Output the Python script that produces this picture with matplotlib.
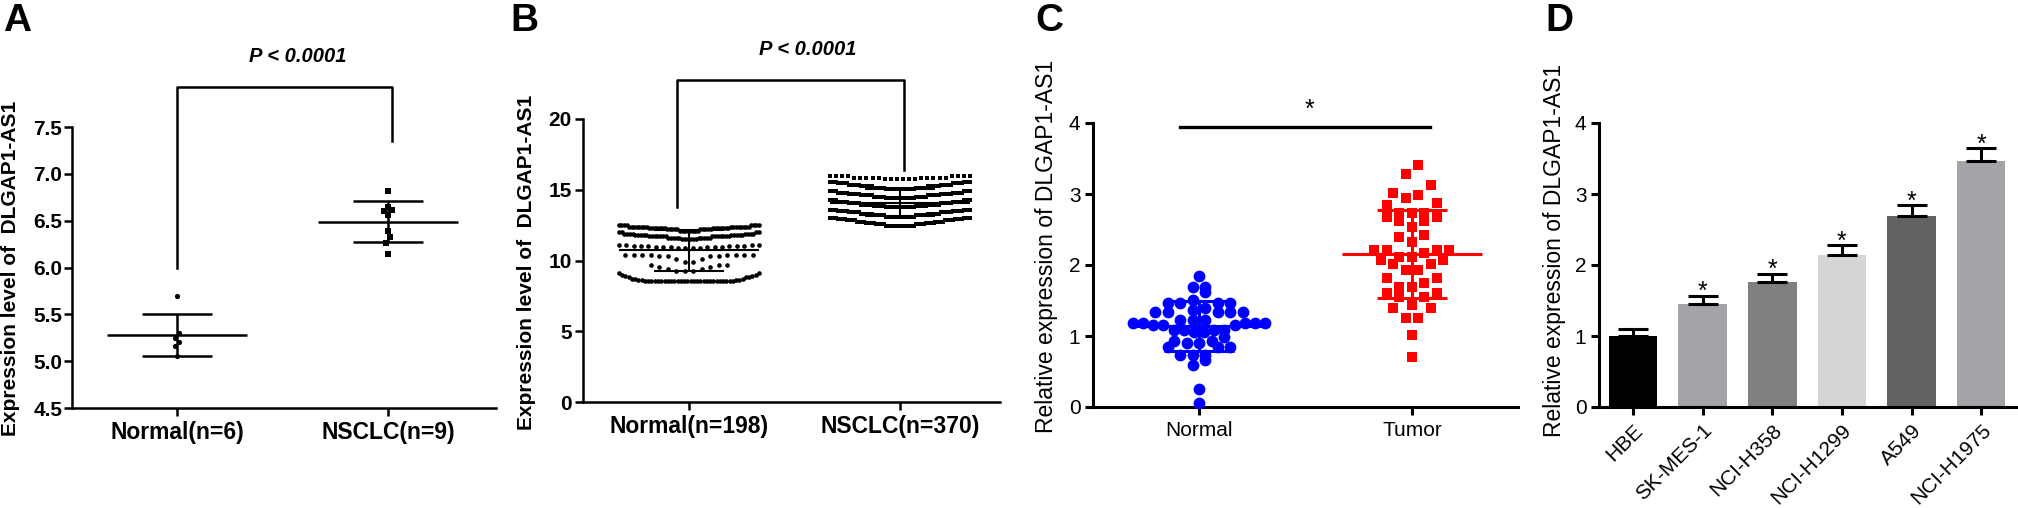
import numpy as np
import matplotlib
matplotlib.use("Agg")
import matplotlib.pyplot as plt

plt.rcParams['font.family'] = ['Liberation Sans', 'DejaVu Sans']

W, H = 2018, 508

# ---- panel A data ----
a_groups = ['Normal(n=6)', 'NSCLC(n=9)']
a_normal = [5.70, 5.30, 5.25, 5.20, 5.16, 5.06]
a_nsclc = [6.82, 6.65, 6.61, 6.60, 6.56, 6.39, 6.33, 6.26, 6.14]
a_mean = [5.28, 6.49]
a_sd = [0.22, 0.22]

# ---- panel B data (value levels and how many samples sit at each) ----
b_groups = ['Normal(n=198)', 'NSCLC(n=370)']
b_normal_vals = [8.55, 8.6, 8.7, 8.8, 8.9, 9.0, 9.1,
                 9.25, 9.4, 9.55, 9.7,
                 9.9, 10.1, 10.3, 10.4,
                 10.85, 10.95, 11.05, 11.1,
                 11.5, 11.6, 11.7, 11.8, 11.9, 12.0,
                 12.1, 12.2, 12.3, 12.4, 12.5]
b_normal_counts = [28, 4, 3, 3, 2, 2, 2,
                   3, 2, 2, 3,
                   2, 2, 4, 8,
                   4, 6, 6, 4,
                   6, 10, 14, 10, 8, 4,
                   8, 10, 14, 16, 8]
b_nsclc_vals = [12.45, 12.55, 12.65, 12.75, 12.85, 12.95, 13.0,
                13.1, 13.2, 13.3, 13.4, 13.5, 13.6,
                13.75, 13.85, 13.95, 14.05, 14.15, 14.25,
                14.4, 14.5, 14.6, 14.7, 14.8, 14.9,
                15.05, 15.15, 15.25, 15.35, 15.45, 15.55,
                15.75, 15.85, 15.95]
b_nsclc_counts = [16, 10, 10, 10, 10, 10, 8,
                  14, 12, 12, 12, 10, 8,
                  14, 12, 12, 12, 10, 8,
                  14, 12, 12, 12, 10, 8,
                  14, 12, 12, 12, 10, 8,
                  6, 10, 8]
b_mean = [10.72, 14.08]
b_sd = [1.45, 0.95]

# ---- panel C data ----
c_groups = ['Normal', 'Tumor']
c_normal = [1.84, 1.69, 1.69, 1.62, 1.51, 1.47, 1.47, 1.47, 1.47, 1.39, 1.37,
            1.34, 1.34, 1.34, 1.34, 1.34, 1.23, 1.23, 1.23, 1.18, 1.18, 1.18,
            1.18, 1.18, 1.16, 1.16, 1.16, 1.08, 1.08, 1.08, 1.08, 1.05, 1.05,
            0.99, 0.93, 0.93, 0.90, 0.90, 0.84, 0.84, 0.84, 0.73, 0.73, 0.73,
            0.66, 0.59, 0.26, 0.06]
c_tumor = [3.41, 3.28, 3.13, 3.01, 2.99, 2.95, 2.88, 2.85, 2.73, 2.73, 2.73,
           2.68, 2.68, 2.62, 2.62, 2.54, 2.42, 2.40, 2.33, 2.21, 2.21, 2.21,
           2.21, 2.17, 2.11, 2.11, 2.07, 2.07, 2.01, 2.01, 1.93, 1.93, 1.82,
           1.82, 1.74, 1.69, 1.69, 1.60, 1.60, 1.55, 1.55, 1.44, 1.39, 1.39,
           1.25, 1.25, 1.01, 0.71]
c_mean = [1.14, 2.15]
c_sd = [0.35, 0.62]

# ---- panel D data ----
d_cells = ['HBE', 'SK-MES-1', 'NCI-H358', 'NCI-H1299', 'A549', 'NCI-H1975']
d_values = [1.00, 1.455, 1.76, 2.145, 2.685, 3.47]
d_err = [0.10, 0.115, 0.12, 0.135, 0.155, 0.175]
d_colors = ['#000000', '#a3a3a8', '#808080', '#d5d5d5', '#626262', '#a3a3a8']
d_star = [False, True, True, True, True, True]

fig = plt.figure(figsize=(W / 100, H / 100), dpi=100)


def px_axes(x0, top, x1, bottom, xlim, ylim):
    ax = fig.add_axes([x0 / W, 1 - bottom / H, (x1 - x0) / W, (bottom - top) / H])
    ax.set_xlim(*xlim)
    ax.set_ylim(*ylim)
    ax.ppu = (x1 - x0) / (xlim[1] - xlim[0])
    return ax


def style(ax, lw):
    for s in ['top', 'right']:
        ax.spines[s].set_visible(False)
    for s in ['left', 'bottom']:
        ax.spines[s].set_linewidth(lw)
        ax.spines[s].set_capstyle('projecting')
    ax.tick_params(width=lw, length=6)


def swarm(values, h, step_px, half_px, ppu):
    # rows of close values, lowest value in the middle of each row
    vals = np.sort(np.asarray(values, float))
    xs = np.zeros(len(vals))
    i = 0
    while i < len(vals):
        j = i
        while j < len(vals) and vals[j] < vals[i] + h:
            j += 1
        n = j - i
        s = step_px if n < 2 else min(step_px, 2 * half_px / (n - 1))
        slots = (np.arange(n) - (n - 1) / 2) * s
        order = np.argsort(np.abs(slots), kind='stable')
        xs[i:j] = slots[order]
        i = j
    return xs / ppu, vals


def mean_sd(ax, x, m, sd, color, lw):
    ax.hlines(m, x - 0.33, x + 0.33, color=color, lw=lw, zorder=3)
    ax.hlines([m - sd, m + sd], x - 0.165, x + 0.165, color=color, lw=lw, zorder=3)
    ax.vlines(x, m - sd, m + sd, color=color, lw=lw, zorder=3)


def letter(x, txt):
    fig.text(x / W, 1 - 31 / H, txt, fontsize=28, fontweight='bold', ha='left', va='baseline')


def ylab(x, y, txt, bold):
    fig.text(x / W, 1 - y / H, txt, rotation=90, ha='center', va='center',
             fontsize=15 if bold else 16.5, fontweight='bold' if bold else 'normal')


# ================= A =================
ax = px_axes(72, 127, 496, 408, (-0.498, 1.512), (4.5, 7.5))
style(ax, 1.8)
for k, (vals, mk) in enumerate([(a_normal, 'o'), (a_nsclc, 's')]):
    dx, v = swarm(vals, 0.08, 4, 10, ax.ppu)
    ax.scatter(k + dx, v, s=14, marker=mk, color='black', zorder=4, linewidths=0)
    mean_sd(ax, k, a_mean[k], a_sd[k], 'black', 1.8)
ax.set_yticks([4.5, 5.0, 5.5, 6.0, 6.5, 7.0, 7.5])
ax.set_yticklabels(['4.5', '5.0', '5.5', '6.0', '6.5', '7.0', '7.5'], fontsize=15, fontweight='bold')
ax.set_xticks([0, 1])
ax.set_xticklabels(a_groups, fontsize=16.5, fontweight='bold')
ax.tick_params(axis='y', pad=1)
ax.tick_params(axis='x', pad=3)
ax.plot([0, 0, 1.02, 1.02], [6.0, 7.93, 7.93, 7.35], color='black', lw=1.8, clip_on=False)
ax.text(0.57, 8.19, 'P < 0.0001', fontsize=14.5, fontweight='bold', style='italic',
        ha='center', va='baseline')
letter(3, 'A')
ylab(11, 268, 'Expression level of  DLGAP1-AS1', True)

# ================= B =================
ax = px_axes(583, 119, 1000, 402, (-0.502, 1.474), (0, 20))
style(ax, 1.8)
b_sets = [(np.repeat(b_normal_vals, b_normal_counts), 'o'),
          (np.repeat(b_nsclc_vals, b_nsclc_counts), 's')]
for k, (vals, mk) in enumerate(b_sets):
    dx, v = swarm(vals, 0.58, 8.5, 70, ax.ppu)
    ax.scatter(k + dx, v, s=11, marker=mk, color='black', zorder=4, linewidths=0)
    mean_sd(ax, k, b_mean[k], b_sd[k], 'black', 1.5)
ax.set_yticks([0, 5, 10, 15, 20])
ax.set_yticklabels(['0', '5', '10', '15', '20'], fontsize=15, fontweight='bold')
ax.set_xticks([0, 1])
ax.set_xticklabels(b_groups, fontsize=16.5, fontweight='bold')
ax.tick_params(axis='y', pad=2)
ax.tick_params(axis='x', pad=3)
ax.plot([-0.055, -0.055, 1.02, 1.02], [13.78, 22.76, 22.76, 16.4], color='black', lw=1.8,
        clip_on=False)
ax.text(0.564, 24.52, 'P < 0.0001', fontsize=14.5, fontweight='bold', style='italic',
        ha='center', va='baseline')
letter(510, 'B')
ylab(527, 262, 'Expression level of  DLGAP1-AS1', True)

# ================= C =================
ax = px_axes(1093, 123, 1518, 407, (-0.498, 1.498), (0, 4))
style(ax, 2.2)
c_sets = [(c_normal, 'o', '#0000ff', 0.13, 66, 72), (c_tumor, 's', '#ff0000', 0.18, 40, 62)]
for k, (vals, mk, col, h, half, sz) in enumerate(c_sets):
    dx, v = swarm(vals, h, 12.5, half, ax.ppu)
    ax.scatter(k + dx, v, s=sz, marker=mk, color=col, zorder=4, linewidths=0, clip_on=False)
    mean_sd(ax, k, c_mean[k], c_sd[k], col, 2.2)
ax.set_yticks([0, 1, 2, 3, 4])
ax.set_yticklabels(['0', '1', '2', '3', '4'], fontsize=15)
ax.set_xticks([0, 1])
ax.set_xticklabels(c_groups, fontsize=15)
ax.tick_params(axis='y', pad=3)
ax.tick_params(axis='x', pad=4)
ax.plot([-0.09, 1.085], [3.94, 3.94], color='black', lw=2.4, clip_on=False)
ax.text(0.521, 4.09, '*', fontsize=18, ha='center', va='baseline')
letter(1035, 'C')
ylab(1047, 246, 'Relative expression of DLGAP1-AS1', False)

# ================= D =================
ax = px_axes(1599, 123, 2018, 407, (-0.49, 5.53), (0, 4))
style(ax, 2.2)
x = np.arange(len(d_cells))
ax.bar(x, d_values, width=0.7, color=d_colors, zorder=2)
ax.errorbar(x, d_values, yerr=[np.zeros(len(x)), d_err], fmt='none', ecolor='black',
            elinewidth=2.2, capsize=11, capthick=2.2, zorder=3)
for i in range(len(x)):
    if d_star[i]:
        ax.text(x[i], d_values[i] + d_err[i] - 0.05, '*', fontsize=18, ha='center',
                va='baseline')
ax.set_yticks([0, 1, 2, 3, 4])
ax.set_yticklabels(['0', '1', '2', '3', '4'], fontsize=15)
ax.set_xticks(x)
ax.set_xticklabels(d_cells, fontsize=15, rotation=45, ha='right', va='top',
                   rotation_mode='anchor')
ax.tick_params(axis='y', pad=3)
ax.tick_params(axis='x', pad=4)
letter(1545, 'D')
ylab(1555, 250, 'Relative expression of DLGAP1-AS1', False)

fig.savefig('out.png', dpi=100)
